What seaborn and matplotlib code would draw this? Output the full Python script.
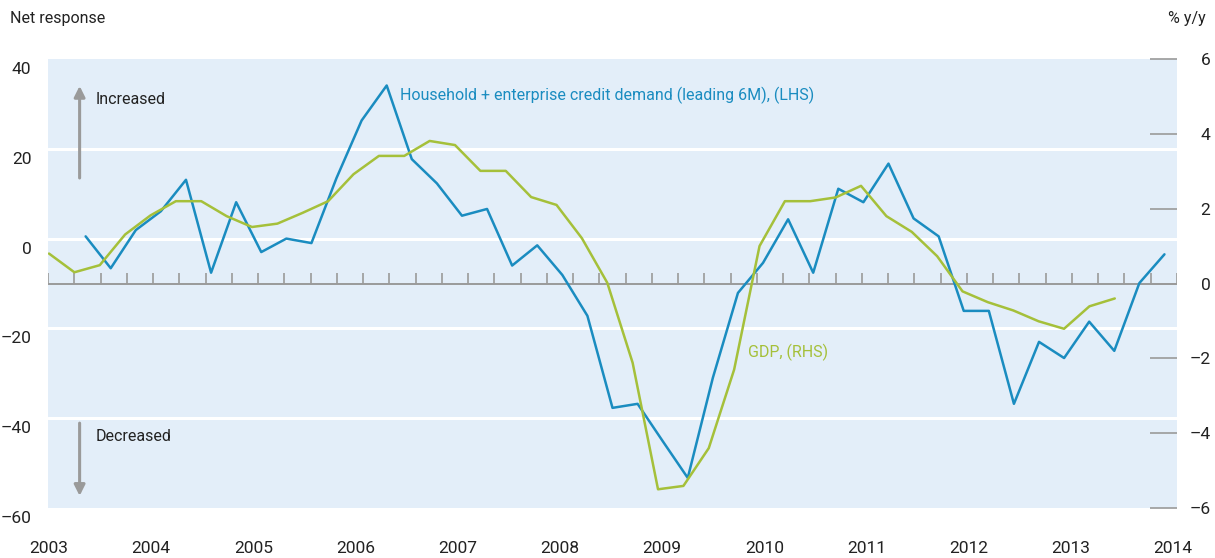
import numpy as np
import matplotlib
matplotlib.use("Agg")
import matplotlib.pyplot as plt
import seaborn as sns
from matplotlib.transforms import ScaledTranslation

# Household + enterprise credit demand, net response (LHS), leading 6M
credit_demand = [0.5, -6.6, 1.9, 6.1, 13.1, -7.6, 8.1, -3.0, 0.0, -1.0,
                 13.5, 26.3, 34.1, 17.7, 12.3, 5.1, 6.6, -6.0, -1.5, -8.1,
                 -17.2, -37.7, -36.8, -45.1, -53.3, -31.0, -12.1, -5.4, 4.3, -7.6,
                 11.1, 8.1, 16.7, 4.5, 0.5, -16.1, -16.1, -36.8, -23.0, -26.6,
                 -18.5, -25.0, -9.9, -3.5]

# GDP, % y/y (RHS)
gdp = [0.80, 0.30, 0.49, 1.31, 1.82, 2.20, 2.20, 1.80, 1.51, 1.60,
       1.89, 2.20, 2.92, 3.41, 3.41, 3.81, 3.70, 3.01, 3.01, 2.31,
       2.10, 1.21, 0.02, -2.12, -5.50, -5.41, -4.40, -2.30, 1.00, 2.20,
       2.20, 2.30, 2.61, 1.80, 1.38, 0.73, -0.21, -0.50, -0.72, -1.01,
       -1.21, -0.61, -0.40]

years = [str(y) for y in range(2003, 2015)]
left_ticks = [40, 20, 0, -20, -40, -60]
left_grid = [20, 0, -20, -40]
right_ticks = [6, 4, 2, 0, -2, -4, -6]

BLUE = "#1a8cc0"
GREEN = "#a5c03a"
GREY = "#9a9a9a"
BG = "#e3eef9"
TXT = "#222222"


def fmt(t):
    return "\u2013" + str(-t) if t < 0 else str(t)


def credit_chart(outfile):
    sns.set_style("white")
    plt.rcParams["font.family"] = ["Roboto", "DejaVu Sans"]

    fig = plt.figure(figsize=(12.15, 5.58), dpi=100)
    ax = fig.add_axes([48 / 1215, 50 / 558, 1129 / 1215, 449 / 558])
    ax2 = ax.twinx()

    # x axis in survey slots, 45 of them across the plot
    span = 45
    x_blue = np.arange(len(credit_demand)) + 1.5
    x_green = np.linspace(0.04, 42.52, len(gdp))
    x_years = np.linspace(0.04, 44.84, len(years))
    x_marks = np.linspace(0, span, 44)

    ax.set_facecolor(BG)

    for g in left_grid:
        ax.axhline(g, color="white", lw=2.2, zorder=1)

    # zero line of the right axis, with small marks
    ax.hlines(0, 0, span, color=GREY, lw=1.4, zorder=2, transform=ax2.transData)
    ax.vlines(x_marks, 0, 0.27, color=GREY, lw=1.2, zorder=2, transform=ax2.transData)

    sns.lineplot(x=x_blue, y=credit_demand, ax=ax, color=BLUE, lw=1.8, zorder=3)
    sns.lineplot(x=x_green, y=gdp, ax=ax2, color=GREEN, lw=1.8, zorder=3)

    ax.set_xlim(0, span)
    ax.set_ylim(-60, 40)
    ax2.set_ylim(-6, 6)

    for a in (ax, ax2):
        for s in a.spines.values():
            s.set_visible(False)
        a.set_xlabel("")
        a.set_ylabel("")

    ax.set_xticks(x_years)
    ax.set_xticklabels(years)
    ax.tick_params(axis="x", length=0, pad=24, labelsize=12.5, labelcolor=TXT)

    ax.set_yticks(left_ticks)
    ax.set_yticklabels([fmt(t) for t in left_ticks])
    ax.tick_params(axis="y", length=0, pad=12, labelsize=12.5, labelcolor=TXT)
    shift = ScaledTranslation(0, -9 / 100, fig.dpi_scale_trans)
    for lbl in ax.get_yticklabels():
        lbl.set_transform(lbl.get_transform() + shift)

    ax2.set_yticks(right_ticks)
    ax2.set_yticklabels([fmt(t) for t in right_ticks])
    ax2.tick_params(axis="y", direction="in", length=19.5, width=1.2, color=GREY,
                    pad=24, labelsize=12.5, labelcolor=TXT)
    for lbl in ax2.get_yticklabels():
        lbl.set_ha("right")

    # arrows and labels
    arrow = dict(arrowstyle="-|>", color=GREY, lw=2.2, mutation_scale=16, shrinkA=0, shrinkB=0)
    ax.annotate("", xy=(0.028, 0.94), xytext=(0.028, 0.735), xycoords="axes fraction",
                textcoords="axes fraction", arrowprops=arrow)
    ax.annotate("", xy=(0.028, 0.027), xytext=(0.028, 0.189), xycoords="axes fraction",
                textcoords="axes fraction", arrowprops=arrow)
    ax.text(0.0425, 0.91, "Increased", transform=ax.transAxes, fontsize=11.5,
            color=TXT, va="center", ha="left")
    ax.text(0.0425, 0.16, "Decreased", transform=ax.transAxes, fontsize=11.5,
            color=TXT, va="center", ha="left")
    ax.text(0.312, 0.92, "Household + enterprise credit demand (leading 6M), (LHS)",
            transform=ax.transAxes, fontsize=11.5, color=BLUE, va="center", ha="left")
    ax.text(0.62, 0.347, "GDP, (RHS)", transform=ax.transAxes, fontsize=11.5,
            color=GREEN, va="center", ha="left")

    fig.text(10 / 1215, 1 - 19 / 558, "Net response", fontsize=11.5, color=TXT,
             va="center", ha="left")
    fig.text(1206 / 1215, 1 - 19 / 558, "% y/y", fontsize=11.5, color=TXT,
             va="center", ha="right")

    fig.savefig(outfile, dpi=100)


def main():
    credit_chart("out.png")


if __name__ == "__main__":
    main()
